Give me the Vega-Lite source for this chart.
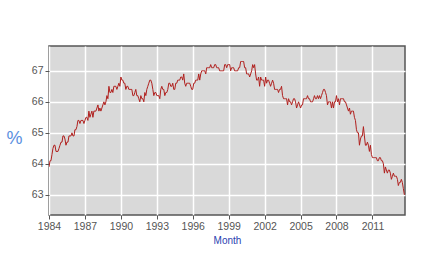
{
  "$schema": "https://vega.github.io/schema/vega-lite/v6.json",
  "autosize": "none",
  "width": 356,
  "height": 169,
  "padding": {"left": 49, "top": 46, "right": 27, "bottom": 43},
  "background": "white",
  "config": {
    "view": {"fill": "#d9d9d9", "stroke": "#555555", "strokeWidth": 1.5},
    "axis": {
      "gridColor": "white", "gridWidth": 1.5, "gridOpacity": 1,
      "domain": false,
      "tickColor": "#555555", "tickSize": 4,
      "labelColor": "#555555", "labelFont": "Liberation Sans", "labelFontSize": 10.5,
      "titleFont": "Liberation Sans", "titleFontWeight": "normal"
    }
  },
  "data": {"values": [
{"m":"1984-01-01","v":63.9},{"m":"1984-02-01","v":64.1},{"m":"1984-03-01","v":64.1},{"m":"1984-04-01","v":64.3},{"m":"1984-05-01","v":64.5},{"m":"1984-06-01","v":64.6},{"m":"1984-07-01","v":64.6},{"m":"1984-08-01","v":64.4},{"m":"1984-09-01","v":64.4},{"m":"1984-10-01","v":64.4},{"m":"1984-11-01","v":64.5},{"m":"1984-12-01","v":64.6},
{"m":"1985-01-01","v":64.7},{"m":"1985-02-01","v":64.7},{"m":"1985-03-01","v":64.9},{"m":"1985-04-01","v":64.9},{"m":"1985-05-01","v":64.8},{"m":"1985-06-01","v":64.6},{"m":"1985-07-01","v":64.7},{"m":"1985-08-01","v":64.7},{"m":"1985-09-01","v":64.9},{"m":"1985-10-01","v":64.9},{"m":"1985-11-01","v":64.9},{"m":"1985-12-01","v":65.0},
{"m":"1986-01-01","v":64.9},{"m":"1986-02-01","v":64.9},{"m":"1986-03-01","v":65.1},{"m":"1986-04-01","v":65.1},{"m":"1986-05-01","v":65.2},{"m":"1986-06-01","v":65.4},{"m":"1986-07-01","v":65.4},{"m":"1986-08-01","v":65.3},{"m":"1986-09-01","v":65.4},{"m":"1986-10-01","v":65.4},{"m":"1986-11-01","v":65.4},{"m":"1986-12-01","v":65.3},
{"m":"1987-01-01","v":65.4},{"m":"1987-02-01","v":65.5},{"m":"1987-03-01","v":65.5},{"m":"1987-04-01","v":65.4},{"m":"1987-05-01","v":65.7},{"m":"1987-06-01","v":65.5},{"m":"1987-07-01","v":65.6},{"m":"1987-08-01","v":65.7},{"m":"1987-09-01","v":65.5},{"m":"1987-10-01","v":65.7},{"m":"1987-11-01","v":65.7},{"m":"1987-12-01","v":65.7},
{"m":"1988-01-01","v":65.8},{"m":"1988-02-01","v":65.9},{"m":"1988-03-01","v":65.7},{"m":"1988-04-01","v":65.8},{"m":"1988-05-01","v":65.7},{"m":"1988-06-01","v":65.8},{"m":"1988-07-01","v":65.9},{"m":"1988-08-01","v":66.0},{"m":"1988-09-01","v":65.9},{"m":"1988-10-01","v":66.0},{"m":"1988-11-01","v":66.2},{"m":"1988-12-01","v":66.1},
{"m":"1989-01-01","v":66.5},{"m":"1989-02-01","v":66.3},{"m":"1989-03-01","v":66.3},{"m":"1989-04-01","v":66.4},{"m":"1989-05-01","v":66.3},{"m":"1989-06-01","v":66.5},{"m":"1989-07-01","v":66.5},{"m":"1989-08-01","v":66.5},{"m":"1989-09-01","v":66.4},{"m":"1989-10-01","v":66.5},{"m":"1989-11-01","v":66.6},{"m":"1989-12-01","v":66.5},
{"m":"1990-01-01","v":66.8},{"m":"1990-02-01","v":66.7},{"m":"1990-03-01","v":66.7},{"m":"1990-04-01","v":66.6},{"m":"1990-05-01","v":66.6},{"m":"1990-06-01","v":66.4},{"m":"1990-07-01","v":66.5},{"m":"1990-08-01","v":66.5},{"m":"1990-09-01","v":66.4},{"m":"1990-10-01","v":66.4},{"m":"1990-11-01","v":66.4},{"m":"1990-12-01","v":66.4},
{"m":"1991-01-01","v":66.2},{"m":"1991-02-01","v":66.2},{"m":"1991-03-01","v":66.3},{"m":"1991-04-01","v":66.4},{"m":"1991-05-01","v":66.2},{"m":"1991-06-01","v":66.2},{"m":"1991-07-01","v":66.1},{"m":"1991-08-01","v":66.0},{"m":"1991-09-01","v":66.2},{"m":"1991-10-01","v":66.1},{"m":"1991-11-01","v":66.1},{"m":"1991-12-01","v":66.0},
{"m":"1992-01-01","v":66.3},{"m":"1992-02-01","v":66.2},{"m":"1992-03-01","v":66.4},{"m":"1992-04-01","v":66.5},{"m":"1992-05-01","v":66.6},{"m":"1992-06-01","v":66.7},{"m":"1992-07-01","v":66.7},{"m":"1992-08-01","v":66.6},{"m":"1992-09-01","v":66.4},{"m":"1992-10-01","v":66.2},{"m":"1992-11-01","v":66.3},{"m":"1992-12-01","v":66.3},
{"m":"1993-01-01","v":66.2},{"m":"1993-02-01","v":66.2},{"m":"1993-03-01","v":66.2},{"m":"1993-04-01","v":66.1},{"m":"1993-05-01","v":66.4},{"m":"1993-06-01","v":66.5},{"m":"1993-07-01","v":66.4},{"m":"1993-08-01","v":66.4},{"m":"1993-09-01","v":66.2},{"m":"1993-10-01","v":66.3},{"m":"1993-11-01","v":66.3},{"m":"1993-12-01","v":66.4},
{"m":"1994-01-01","v":66.6},{"m":"1994-02-01","v":66.6},{"m":"1994-03-01","v":66.5},{"m":"1994-04-01","v":66.5},{"m":"1994-05-01","v":66.6},{"m":"1994-06-01","v":66.4},{"m":"1994-07-01","v":66.4},{"m":"1994-08-01","v":66.6},{"m":"1994-09-01","v":66.6},{"m":"1994-10-01","v":66.7},{"m":"1994-11-01","v":66.7},{"m":"1994-12-01","v":66.7},
{"m":"1995-01-01","v":66.8},{"m":"1995-02-01","v":66.8},{"m":"1995-03-01","v":66.7},{"m":"1995-04-01","v":66.9},{"m":"1995-05-01","v":66.6},{"m":"1995-06-01","v":66.5},{"m":"1995-07-01","v":66.6},{"m":"1995-08-01","v":66.6},{"m":"1995-09-01","v":66.6},{"m":"1995-10-01","v":66.6},{"m":"1995-11-01","v":66.5},{"m":"1995-12-01","v":66.4},
{"m":"1996-01-01","v":66.4},{"m":"1996-02-01","v":66.6},{"m":"1996-03-01","v":66.6},{"m":"1996-04-01","v":66.7},{"m":"1996-05-01","v":66.7},{"m":"1996-06-01","v":66.7},{"m":"1996-07-01","v":66.9},{"m":"1996-08-01","v":66.7},{"m":"1996-09-01","v":66.9},{"m":"1996-10-01","v":67.0},{"m":"1996-11-01","v":67.0},{"m":"1996-12-01","v":67.0},
{"m":"1997-01-01","v":67.0},{"m":"1997-02-01","v":66.9},{"m":"1997-03-01","v":67.1},{"m":"1997-04-01","v":67.1},{"m":"1997-05-01","v":67.1},{"m":"1997-06-01","v":67.1},{"m":"1997-07-01","v":67.2},{"m":"1997-08-01","v":67.1},{"m":"1997-09-01","v":67.1},{"m":"1997-10-01","v":67.1},{"m":"1997-11-01","v":67.2},{"m":"1997-12-01","v":67.2},
{"m":"1998-01-01","v":67.1},{"m":"1998-02-01","v":67.1},{"m":"1998-03-01","v":67.1},{"m":"1998-04-01","v":67.0},{"m":"1998-05-01","v":67.0},{"m":"1998-06-01","v":67.0},{"m":"1998-07-01","v":67.0},{"m":"1998-08-01","v":67.0},{"m":"1998-09-01","v":67.2},{"m":"1998-10-01","v":67.2},{"m":"1998-11-01","v":67.1},{"m":"1998-12-01","v":67.2},
{"m":"1999-01-01","v":67.2},{"m":"1999-02-01","v":67.2},{"m":"1999-03-01","v":67.0},{"m":"1999-04-01","v":67.1},{"m":"1999-05-01","v":67.1},{"m":"1999-06-01","v":67.1},{"m":"1999-07-01","v":67.0},{"m":"1999-08-01","v":67.0},{"m":"1999-09-01","v":67.0},{"m":"1999-10-01","v":67.0},{"m":"1999-11-01","v":67.1},{"m":"1999-12-01","v":67.1},
{"m":"2000-01-01","v":67.3},{"m":"2000-02-01","v":67.3},{"m":"2000-03-01","v":67.3},{"m":"2000-04-01","v":67.3},{"m":"2000-05-01","v":67.1},{"m":"2000-06-01","v":67.1},{"m":"2000-07-01","v":66.9},{"m":"2000-08-01","v":66.9},{"m":"2000-09-01","v":66.9},{"m":"2000-10-01","v":66.8},{"m":"2000-11-01","v":66.9},{"m":"2000-12-01","v":67.0},
{"m":"2001-01-01","v":67.2},{"m":"2001-02-01","v":67.1},{"m":"2001-03-01","v":67.2},{"m":"2001-04-01","v":66.9},{"m":"2001-05-01","v":66.7},{"m":"2001-06-01","v":66.7},{"m":"2001-07-01","v":66.8},{"m":"2001-08-01","v":66.5},{"m":"2001-09-01","v":66.8},{"m":"2001-10-01","v":66.7},{"m":"2001-11-01","v":66.7},{"m":"2001-12-01","v":66.7},
{"m":"2002-01-01","v":66.5},{"m":"2002-02-01","v":66.8},{"m":"2002-03-01","v":66.6},{"m":"2002-04-01","v":66.7},{"m":"2002-05-01","v":66.7},{"m":"2002-06-01","v":66.6},{"m":"2002-07-01","v":66.5},{"m":"2002-08-01","v":66.6},{"m":"2002-09-01","v":66.7},{"m":"2002-10-01","v":66.6},{"m":"2002-11-01","v":66.4},{"m":"2002-12-01","v":66.4},
{"m":"2003-01-01","v":66.4},{"m":"2003-02-01","v":66.4},{"m":"2003-03-01","v":66.3},{"m":"2003-04-01","v":66.4},{"m":"2003-05-01","v":66.4},{"m":"2003-06-01","v":66.5},{"m":"2003-07-01","v":66.2},{"m":"2003-08-01","v":66.1},{"m":"2003-09-01","v":66.1},{"m":"2003-10-01","v":66.1},{"m":"2003-11-01","v":66.1},{"m":"2003-12-01","v":65.9},
{"m":"2004-01-01","v":66.1},{"m":"2004-02-01","v":66.0},{"m":"2004-03-01","v":66.0},{"m":"2004-04-01","v":65.9},{"m":"2004-05-01","v":66.0},{"m":"2004-06-01","v":66.1},{"m":"2004-07-01","v":66.1},{"m":"2004-08-01","v":66.0},{"m":"2004-09-01","v":65.8},{"m":"2004-10-01","v":65.9},{"m":"2004-11-01","v":66.0},{"m":"2004-12-01","v":65.9},
{"m":"2005-01-01","v":65.8},{"m":"2005-02-01","v":65.9},{"m":"2005-03-01","v":65.9},{"m":"2005-04-01","v":66.1},{"m":"2005-05-01","v":66.1},{"m":"2005-06-01","v":66.1},{"m":"2005-07-01","v":66.1},{"m":"2005-08-01","v":66.2},{"m":"2005-09-01","v":66.1},{"m":"2005-10-01","v":66.1},{"m":"2005-11-01","v":66.0},{"m":"2005-12-01","v":66.0},
{"m":"2006-01-01","v":66.0},{"m":"2006-02-01","v":66.1},{"m":"2006-03-01","v":66.2},{"m":"2006-04-01","v":66.1},{"m":"2006-05-01","v":66.1},{"m":"2006-06-01","v":66.2},{"m":"2006-07-01","v":66.1},{"m":"2006-08-01","v":66.2},{"m":"2006-09-01","v":66.1},{"m":"2006-10-01","v":66.2},{"m":"2006-11-01","v":66.3},{"m":"2006-12-01","v":66.4},
{"m":"2007-01-01","v":66.4},{"m":"2007-02-01","v":66.3},{"m":"2007-03-01","v":66.2},{"m":"2007-04-01","v":65.9},{"m":"2007-05-01","v":66.0},{"m":"2007-06-01","v":66.0},{"m":"2007-07-01","v":66.0},{"m":"2007-08-01","v":65.8},{"m":"2007-09-01","v":66.0},{"m":"2007-10-01","v":65.8},{"m":"2007-11-01","v":66.0},{"m":"2007-12-01","v":66.0},
{"m":"2008-01-01","v":66.2},{"m":"2008-02-01","v":66.0},{"m":"2008-03-01","v":66.1},{"m":"2008-04-01","v":65.9},{"m":"2008-05-01","v":66.1},{"m":"2008-06-01","v":66.1},{"m":"2008-07-01","v":66.1},{"m":"2008-08-01","v":66.1},{"m":"2008-09-01","v":66.0},{"m":"2008-10-01","v":66.0},{"m":"2008-11-01","v":65.9},{"m":"2008-12-01","v":65.8},
{"m":"2009-01-01","v":65.7},{"m":"2009-02-01","v":65.8},{"m":"2009-03-01","v":65.6},{"m":"2009-04-01","v":65.7},{"m":"2009-05-01","v":65.7},{"m":"2009-06-01","v":65.7},{"m":"2009-07-01","v":65.5},{"m":"2009-08-01","v":65.4},{"m":"2009-09-01","v":65.1},{"m":"2009-10-01","v":65.0},{"m":"2009-11-01","v":65.0},{"m":"2009-12-01","v":64.6},
{"m":"2010-01-01","v":64.8},{"m":"2010-02-01","v":64.9},{"m":"2010-03-01","v":64.9},{"m":"2010-04-01","v":65.2},{"m":"2010-05-01","v":64.9},{"m":"2010-06-01","v":64.6},{"m":"2010-07-01","v":64.6},{"m":"2010-08-01","v":64.7},{"m":"2010-09-01","v":64.6},{"m":"2010-10-01","v":64.4},{"m":"2010-11-01","v":64.6},{"m":"2010-12-01","v":64.3},
{"m":"2011-01-01","v":64.2},{"m":"2011-02-01","v":64.2},{"m":"2011-03-01","v":64.2},{"m":"2011-04-01","v":64.2},{"m":"2011-05-01","v":64.2},{"m":"2011-06-01","v":64.1},{"m":"2011-07-01","v":64.1},{"m":"2011-08-01","v":64.2},{"m":"2011-09-01","v":64.2},{"m":"2011-10-01","v":64.1},{"m":"2011-11-01","v":64.1},{"m":"2011-12-01","v":64.0},
{"m":"2012-01-01","v":63.7},{"m":"2012-02-01","v":63.9},{"m":"2012-03-01","v":63.8},{"m":"2012-04-01","v":63.7},{"m":"2012-05-01","v":63.8},{"m":"2012-06-01","v":63.8},{"m":"2012-07-01","v":63.7},{"m":"2012-08-01","v":63.5},{"m":"2012-09-01","v":63.6},{"m":"2012-10-01","v":63.7},{"m":"2012-11-01","v":63.6},{"m":"2012-12-01","v":63.6},
{"m":"2013-01-01","v":63.6},{"m":"2013-02-01","v":63.5},{"m":"2013-03-01","v":63.3},{"m":"2013-04-01","v":63.4},{"m":"2013-05-01","v":63.4},{"m":"2013-06-01","v":63.5},{"m":"2013-07-01","v":63.4},{"m":"2013-08-01","v":63.2},{"m":"2013-09-01","v":63.0}
  ]},
  "mark": {"type": "line", "color": "#b0201e", "strokeWidth": 1, "clip": true},
  "encoding": {
    "x": {
      "field": "m", "type": "temporal",
      "scale": {"type": "utc", "domain": [{"year": 1984, "month": 1, "date": 1, "utc": true}, {"year": 2013, "month": 9, "date": 20, "utc": true}]},
      "axis": {
        "title": "Month", "titleColor": "#2a3fb0", "titleFontSize": 10, "titlePadding": 4,
        "format": "%Y", "formatType": "utc", "labelPadding": 2, "labelFlush": false,
        "values": [
          {"year": 1984, "utc": true}, {"year": 1987, "utc": true}, {"year": 1990, "utc": true},
          {"year": 1993, "utc": true}, {"year": 1996, "utc": true}, {"year": 1999, "utc": true},
          {"year": 2002, "utc": true}, {"year": 2005, "utc": true}, {"year": 2008, "utc": true},
          {"year": 2011, "utc": true}
        ]
      }
    },
    "y": {
      "field": "v", "type": "quantitative",
      "scale": {"domain": [62.35, 67.8], "nice": false, "zero": false},
      "axis": {
        "title": "%", "titleColor": "#5b8fe0", "titleFontSize": 18, "titleAngle": 0,
        "titleX": -35, "titleY": 92, "titleAlign": "center", "titleBaseline": "middle",
        "values": [63, 64, 65, 66, 67], "labelPadding": 2
      }
    }
  }
}
